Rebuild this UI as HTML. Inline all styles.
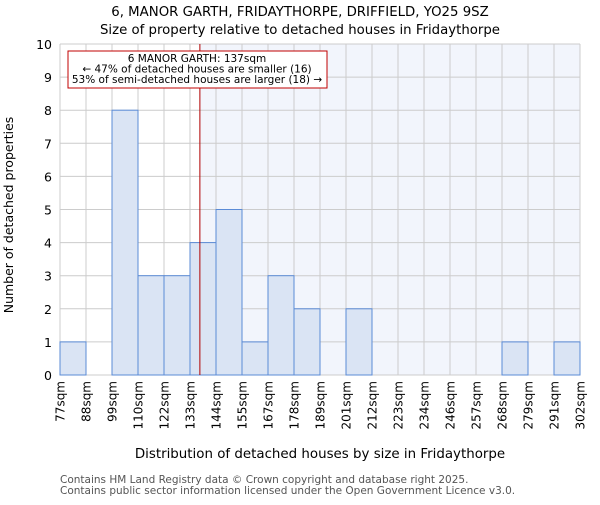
<!DOCTYPE html>
<html><head><meta charset="utf-8"><style>
body{margin:0;background:#fff;font-family:"Liberation Sans","DejaVu Sans",sans-serif}
</style></head><body>
<svg width="600" height="500" xmlns="http://www.w3.org/2000/svg" font-family="DejaVu Sans, Liberation Sans, sans-serif">
<text x="300" y="16" text-anchor="middle" font-size="13.3">6, MANOR GARTH, FRIDAYTHORPE, DRIFFIELD, YO25 9SZ</text>
<text x="300" y="34" text-anchor="middle" font-size="13.3">Size of property relative to detached houses in Fridaythorpe</text>
<g id="plot"></g>
<text x="320" y="458" text-anchor="middle" font-size="13.4">Distribution of detached houses by size in Fridaythorpe</text>
<text transform="translate(13,215) rotate(-90)" text-anchor="middle" font-size="12.5">Number of detached properties</text>
<text x="60" y="483" font-size="10.5" fill="#555">Contains HM Land Registry data © Crown copyright and database right 2025.</text>
<text x="60" y="494" font-size="10.5" fill="#555">Contains public sector information licensed under the Open Government Licence v3.0.</text>
</svg>
<script>
const edges=["77sqm","88sqm","99sqm","110sqm","122sqm","133sqm","144sqm","155sqm","167sqm","178sqm","189sqm","201sqm","212sqm","223sqm","234sqm","246sqm","257sqm","268sqm","279sqm","291sqm","302sqm"];
const counts=[1,0,8,3,3,4,5,1,3,2,0,2,0,0,0,0,0,1,0,1];
const yTicks=[0,1,2,3,4,5,6,7,8,9,10];
const markerBin=5.38;
const NS="http://www.w3.org/2000/svg";
const g=document.getElementById('plot');
const L=60,R=580,T=44,B=375,n=counts.length;
const x=i=>L+(R-L)*i/n, y=v=>B-(B-T)*v/10;
function mk(t,a){const e=document.createElementNS(NS,t);for(const k in a)e.setAttribute(k,a[k]);g.appendChild(e);return e;}
const mx=x(markerBin);
let bg=mk('rect',{x:mx,y:T,width:R-mx,height:B-T,fill:'#f2f5fc'});


yTicks.forEach(v=>{const l=mk('line',{x1:L,x2:R,y1:y(v),y2:y(v),stroke:'#ccc'});


const t=mk('text',{x:L-8,y:y(v)+5,'text-anchor':'end','font-size':'12.5'});t.textContent=v;

});
for(let i=0;i<=n;i++){const l=mk('line',{x1:x(i),x2:x(i),y1:T,y2:B,stroke:'#ccc'});

}
counts.forEach((c,i)=>{if(!c)return;const r=mk('rect',{x:x(i),y:y(c),width:x(i+1)-x(i),height:y(0)-y(c),fill:'#dae4f4',stroke:'#5b8bd6','stroke-width':1});

});
edges.forEach((e,i)=>{const t=mk('text',{transform:`translate(${x(i)+4.5},${B+6}) rotate(-90)`,'text-anchor':'end','font-size':'12'});t.textContent=e;

});
const ml=mk('line',{x1:mx,x2:mx,y1:T,y2:B,stroke:'#b00000','stroke-width':1});


const box=mk('rect',{x:68,y:51,width:259,height:37,fill:'#fff',stroke:'#c00000'});


["6 MANOR GARTH: 137sqm","← 47% of detached houses are smaller (16)","53% of semi-detached houses are larger (18) →"].forEach((s,i)=>{const t=mk('text',{x:197,y:62+i*10.5,'text-anchor':'middle','font-size':'10.5'});t.textContent=s;

});
</script>
</body></html>
